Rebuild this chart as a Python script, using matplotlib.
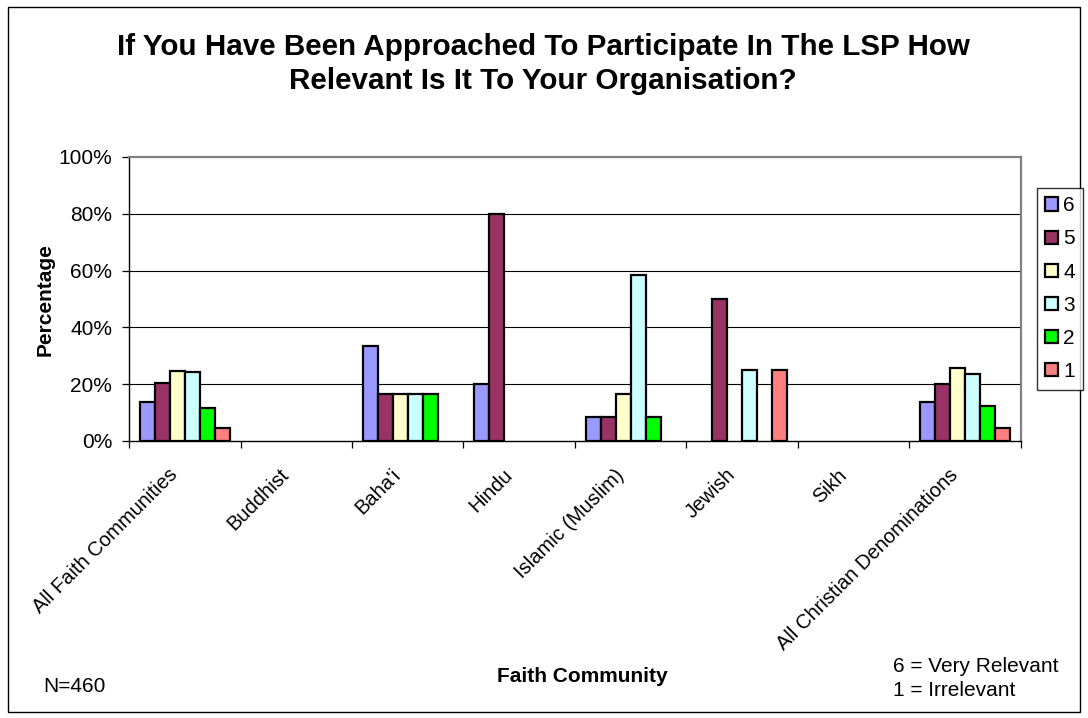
import numpy as np
import matplotlib
matplotlib.use("Agg")
import matplotlib.pyplot as plt
from matplotlib.patches import Rectangle
from matplotlib.ticker import PercentFormatter, FixedLocator

plt.rcParams['font.family'] = ['Liberation Sans', 'DejaVu Sans']

categories = ["All Faith Communities", "Buddhist", "Baha'i", "Hindu",
              "Islamic (Muslim)", "Jewish", "Sikh", "All Christian Denominations"]
series_names = ["6", "5", "4", "3", "2", "1"]
series_colors = ["#9999FF", "#993366", "#FFFFCC", "#CCFFFF", "#00FF00", "#FF8080"]

# Percentage of respondents per rating, one list per rating (6 = very relevant)
rating_6 = [13.7, 0, 33.3, 20.0, 8.3, 0, 0, 13.8]
rating_5 = [20.4, 0, 16.7, 80.0, 8.3, 50.0, 0, 19.9]
rating_4 = [24.8, 0, 16.7, 0, 16.7, 0, 0, 25.8]
rating_3 = [24.3, 0, 16.7, 0, 58.3, 25.0, 0, 23.6]
rating_2 = [11.7, 0, 16.7, 0, 8.3, 0, 0, 12.3]
rating_1 = [4.6, 0, 0, 0, 0, 25.0, 0, 4.5]
series_values = [rating_6, rating_5, rating_4, rating_3, rating_2, rating_1]

W, H = 1088, 718
FS = 15
fig = plt.figure(figsize=(W / 100, H / 100), dpi=100)
fig.patch.set_facecolor("white")

# Outer chart border
fig.add_artist(Rectangle((8 / W, 6 / H), (W - 16) / W, (H - 13) / H,
                         transform=fig.transFigure, fill=False,
                         edgecolor="black", lw=1.0))

ax_l, ax_r, ax_t, ax_b = 129, 1021, 157, 441
ax = fig.add_axes([ax_l / W, (H - ax_b) / H, (ax_r - ax_l) / W, (ax_b - ax_t) / H])

n_cat = len(categories)
n_ser = len(series_names)
gap = 0.19
bar_w = (1 - gap) / n_ser
x = np.arange(n_cat)

for i, (name, vals, col) in enumerate(zip(series_names, series_values, series_colors)):
    vals = np.asarray(vals, dtype=float)
    shown = np.where(vals > 0, vals, np.nan)
    pos = x + 0.5 - (1 - gap) / 2 + bar_w * (i + 0.5)
    ax.bar(pos, shown, width=bar_w, color=col, edgecolor="black",
           linewidth=1.6, label=name, zorder=3)

ax.set_xlim(0, n_cat)
ax.set_ylim(0, 100)

ax.yaxis.set_major_locator(FixedLocator([0, 20, 40, 60, 80, 100]))
ax.yaxis.set_major_formatter(PercentFormatter(decimals=0))
for yv in [20, 40, 60, 80]:
    ax.axhline(yv, color="black", lw=0.8, zorder=1)

# Ticks at category boundaries, slanted labels at category centres
ax.set_xticks(np.arange(n_cat + 1))
ax.set_xticklabels([])
for xc, name in zip(x + 0.5, categories):
    ax.annotate(name, xy=(xc, 0), xycoords=("data", "axes fraction"),
                xytext=(-7.2, -22.3), textcoords="offset points",
                rotation=45, ha="right", va="center", rotation_mode="anchor",
                fontsize=14.5, annotation_clip=False)
ax.tick_params(axis="x", which="major", length=5, direction="out", width=0.9)
ax.tick_params(axis="y", length=5, direction="out", width=0.9, labelsize=FS, pad=7)

for side in ["top", "right"]:
    ax.spines[side].set_color("#808080")
    ax.spines[side].set_linewidth(1.6)
for side in ["left", "bottom"]:
    ax.spines[side].set_color("black")
    ax.spines[side].set_linewidth(1.0)

fig.text(543 / W, 1 - 64 / H,
         "If You Have Been Approached To Participate In The LSP How\nRelevant Is It To Your Organisation?",
         ha="center", va="center", fontsize=21.3, fontweight="bold", linespacing=1.25)

fig.text(45 / W, 1 - 300 / H, "Percentage", rotation=90, ha="center", va="center",
         fontsize=FS, fontweight="bold")
fig.text(582 / W, 1 - 677 / H, "Faith Community", ha="center", va="center",
         fontsize=FS, fontweight="bold")
fig.text(43 / W, 1 - 687 / H, "N=460", ha="left", va="center", fontsize=FS)
fig.text(893 / W, 1 - 667 / H, "6 = Very Relevant", ha="left", va="center", fontsize=FS)
fig.text(893 / W, 1 - 690 / H, "1 = Irrelevant", ha="left", va="center", fontsize=FS)

leg = fig.legend(loc="upper left", bbox_to_anchor=(1037 / W, 1 - 188 / H),
                 fontsize=FS, frameon=True, fancybox=False, handlelength=0.6,
                 handleheight=0.6, handletextpad=0.25, labelspacing=0.68,
                 borderpad=0.4, borderaxespad=0)
leg.get_frame().set_edgecolor("black")
leg.get_frame().set_linewidth(1.0)

fig.savefig("out.png", dpi=100, facecolor="white")
